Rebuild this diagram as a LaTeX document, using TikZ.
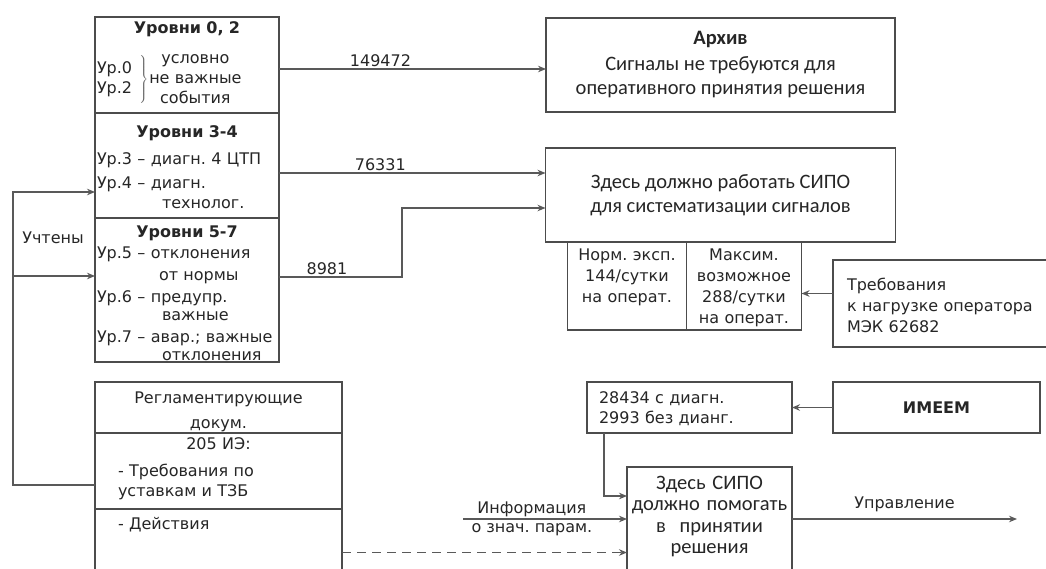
\documentclass[tikz,border=0pt]{standalone}
\usepackage{fontspec}
\setmainfont{DejaVu Sans}
\newfontfamily\calfont{Carlito}
\usepackage{tikz}
\usetikzlibrary{arrows.meta}
\usetikzlibrary{positioning}
\frenchspacing
\tikzset{
    block/.style={
           rectangle,
           draw=black!70, line width=1.8pt,
           fill=white,
           outer sep=0pt,
           inner sep=2pt,
           text=black!85,
           text centered,
           font=\fontsize{16}{20}\selectfont,
           },
    lblock/.style={
           block,
           align=left,
           inner ysep=1pt,
           },
    cblock/.style={
           block,
           align=center,
           font=\calfont\fontsize{20.5}{24.5}\selectfont,
           },
    frameless/.style={
           inner sep=1pt,
           text=black!85,
           font=\fontsize{16}{20}\selectfont,
           },
    line/.style={
           draw=black!65, line width=1.6pt,
           -{Stealth[length=8pt, width=6.5pt]},
           },
}

\begin{document}
\begin{tikzpicture}[x=1pt,y=-1pt]
	\useasboundingbox (0,0) rectangle (1046,568);
	\clip (0,0) rectangle (1046,568);
	% levels column
	\node[lblock, text width=180pt, text height=15pt, text depth=79pt, anchor=north] (lv02) at (187,17) {
		\makebox[\linewidth]{\textbf{Уровни 0, 2}}\\[12pt]
		\begin{tabular}{@{}l@{}}Ур.0\\Ур.2\end{tabular}\hspace{6pt}{\color{black!60}$\left.\rule{0pt}{28pt}\right\}$}\hspace{1pt}\begin{tabular}{@{}c@{}}условно\\не важные\\события\end{tabular}
	};
	\node[lblock, text width=180pt, text height=23pt, text depth=80pt, below=0pt of lv02] (lv34) {
		\makebox[\linewidth]{\textbf{Уровни 3-4}}\\[7pt]
		Ур.3 – диагн. 4 ЦТП\\[4pt]
		Ур.4 – диагн.\\
		\hspace*{65pt}технолог.
	};
	\node[lblock, text width=180pt, text height=18pt, text depth=124pt, below=0pt of lv34] (lv57) {
		\makebox[\linewidth]{\textbf{Уровни 5-7}}\\[1pt]
		Ур.5 – отклонения\\[2pt]
		\hspace*{62pt}от нормы\\[2pt]
		Ур.6 – предупр.\\[-2pt]
		\hspace*{65pt}важные\\[2pt]
		Ур.7 – авар.; важные\\[-2pt]
		\hspace*{65pt}отклонения
	};
	% documents column
	\node[block, align=center, text width=243pt, text height=19pt, text depth=28pt, anchor=north] (reg1) at (218.5,382) {Регламентирующие\\[5pt]докум.};
	\node[lblock, inner xsep=23pt, text width=201pt, text height=15pt, text depth=59pt, below=0pt of reg1] (reg2) {
		\makebox[\linewidth]{205 ИЭ:}\\[7pt]
		- Требования по\\
		уставкам и ТЗБ
	};
	\node[lblock, inner xsep=23pt, text width=201pt, text height=19pt, text depth=70pt, below=0pt of reg2] (reg3) {- Действия};
	\node[frameless] (uch) at (53,238) {Учтены};
	% right side
	\node[cblock, minimum width=349pt, minimum height=94pt] (arch) at (720.5,65) {
		\textbf{Архив}\\[1pt]
		Сигналы не требуются для\\
		оперативного принятия решения
	};
	\node[cblock, minimum width=350pt, minimum height=94pt, below=36pt of arch] (sipo1) {
		Здесь должно работать СИПО\\
		для систематизации сигналов
	};
	\node[block, align=center, font=\fontsize{16}{21}\selectfont, text width=115pt, text height=16pt, text depth=68pt, anchor=north west] (norm) at ([xshift=22pt]sipo1.south west) {
		Норм. эксп.\\144/сутки\\на операт.
	};
	\node[block, align=center, font=\fontsize{16}{21}\selectfont, text width=111pt, text height=16pt, text depth=68pt, right=0pt of norm] (max) {
		Максим.\\возможное\\288/сутки\\на операт.
	};
	\node[lblock, font=\fontsize{16}{21}\selectfont, inner xsep=14pt, text width=199pt, text height=29pt, text depth=56pt, anchor=north west] (req) at (833,260) {
		Требования\\
		к нагрузке оператора\\
		МЭК 62682
	};
	\node[lblock, inner xsep=12pt, text width=181pt, text height=20pt, text depth=29pt, anchor=north west] (diag) at (587,382) {
		28434 с диагн.\\
		2993 без дианг.
	};
	\node[block, minimum width=207pt, minimum height=51pt, right=41pt of diag] (imeem) {\textbf{ИМЕЕМ}};
	\node[cblock, font=\calfont\fontsize{20.5}{21.5}\selectfont, text width=161pt, text height=20pt, text depth=109pt, anchor=north] (sipo2) at (709.5,467) {
		Здесь СИПО\\
		должно помогать\\
		в~~принятии\\
		решения
	};
	\coordinate (info) at (463,519);
	\coordinate (ctrl) at (1017,519);

	\draw[line] ([yshift=-4pt]lv02.east) -- node[frameless, above, pos=0.38] {149472} ([yshift=-4pt]arch.west);
	\draw[line] ([yshift=-7.5pt]lv34.east) -- node[frameless, above, pos=0.38] {76331} ([yshift=-7.5pt]lv34.east -| sipo1.west);
	\draw[line] ([yshift=13pt]lv57.east) -- node[frameless, above, pos=0.39] {8981} ++(123,0) |- ([yshift=-13pt]sipo1.west);
	\draw[line] ([yshift=-14pt]reg2.west) -| ([xshift=-82pt,yshift=-26.5pt]lv34.west) -- ([yshift=-26.5pt]lv34.west);
	\draw[line] ([xshift=-82pt,yshift=14pt]lv57.west) -- ([yshift=14pt]lv57.west);
	\draw[line] ([yshift=10pt]req.west) -- ([yshift=10pt]req.west -| max.east);
	\draw[line] (imeem.west) -- (diag.east);
	\draw[line] ([xshift=-85.5pt]diag.south) |- ([yshift=37.5pt]sipo2.west);
	\draw[line] (info) -- node[frameless, above, pos=0.42] {Информация} node[frameless, below=3pt, pos=0.42] {о знач. парам.} (info -| sipo2.west);
	\draw[line, dash pattern=on 9pt off 6pt] ([yshift=2pt]reg3.east) -- ([yshift=2pt]reg3.east -| sipo2.west);
	\draw[line] (sipo2.east |- ctrl) -- node[frameless, above=5pt] {Управление} (ctrl);
\end{tikzpicture}
\end{document}
